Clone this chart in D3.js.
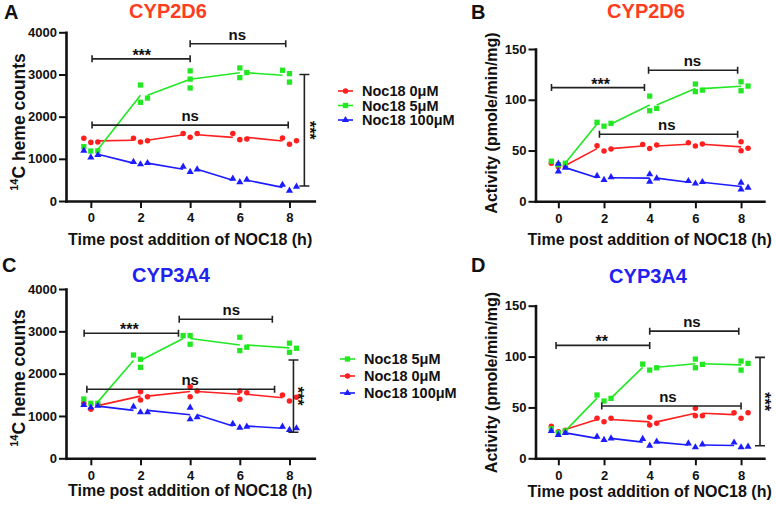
<!DOCTYPE html>
<html lang="en">
<head>
<meta charset="utf-8">
<title>Noc18: heme and activity of CYP2D6 / CYP3A4</title>
<script src="https://cdn.jsdelivr.net/npm/d3@7"></script>
<style>
  body { margin: 0; background: #fff; }
  svg text { font-family: "Liberation Sans", Arial, sans-serif; font-weight: bold; fill: #111; }
</style>
</head>
<body>
<script>

// sampling times (h)
var times = [0, 2, 4, 6, 8];
var seriesNames = ["Noc18 0μM", "Noc18 5μM", "Noc18 100μM"];
var hemeTicks = [0, 1000, 2000, 3000, 4000];
var activityTicks = [0, 50, 100, 150];

// A - 14C heme counts, CYP2D6 (3 replicates per time)
var hemeD6_noc0   = [[1490,1390,1400],[1490,1400,1430],[1600,1510,1600],[1600,1455,1470],[1495,1345,1430]];
var hemeD6_noc5   = [[1290,1185,1190],[2750,2340,2440],[3085,2890,2680],[3155,2925,3045],[3100,3020,2820]];
var hemeD6_noc100 = [[1195,1035,1090],[925,870,900],[815,690,750],[530,445,505],[385,245,340]];

// B - activity (pmole/min/mg), CYP2D6
var actD6_noc0   = [[37.5,34,34.5],[54.7,49.5,51.5],[56,52,55.4],[57.7,54.4,56.4],[58.7,49.8,52.2]];
var actD6_noc5   = [[39.5,36,37.5],[77.8,74,76.8],[103.6,89.2,91.5],[115.5,108,109.5],[117.7,108.9,113.5]];
var actD6_noc100 = [[37,29.5,33],[25,21,23.8],[26.6,19.3,22.6],[20,17.5,19],[18.3,11.8,13.4]];

// C - 14C heme counts, CYP3A4
var hemeA4_noc0   = [[1300,1158,1277],[1575,1378,1456],[1693,1456,1590],[1590,1395,1550],[1497,1355,1442]];
var hemeA4_noc5   = [[1400,1300,1300],[2440,2340,2150],[2900,2900,2695],[2860,2545,2625],[2720,2505,2600]];
var hemeA4_noc100 = [[1260,1200,1240],[1220,1087,1087],[1196,922,969],[811,724,747],[747,669,709]];

// D - activity (pmole/min/mg), CYP3A4
var actA4_noc0   = [[31.5,26,27.5],[39.3,36,39.3],[40.3,32.7,34.4],[49.1,41.9,41.9],[44.8,39.3,44.8]];
var actA4_noc5   = [[29,25,27],[62.2,56.3,58.9],[92.6,86.7,89],[97.5,89,92.3],[95.6,86.7,93.3]];
var actA4_noc100 = [[27,23,25],[21.2,18,19.6],[19,12.4,16.3],[14.7,10.8,13.7],[15.5,10.8,11.4]];

// significance brackets: [label, from (h), to (h), level, label at (h)]
var bracketsA = [["***", 0.05, 4, 3370, 2.05], ["ns", 4, 7.85, 3730, 5.9], ["ns", 0.05, 7.95, 1800, 4]];
var bracketsB = [["***", -0.3, 3.77, 112, 1.85], ["ns", 3.95, 7.85, 129, 5.87], ["ns", 1.8, 7.85, 66, 4.75]];
var bracketsC = [["***", -0.27, 3.53, 2955, 1.55], ["ns", 3.56, 7.31, 3286, 5.66], ["ns", -0.16, 7.4, 1631, 4]];
var bracketsD = [["**", -0.1, 4, 111, 1.9], ["ns", 4, 7.9, 125, 5.85], ["ns", 1.9, 8, 51.4, 4.8]];
// vertical brackets: [label, at (h), from, to]
var vBracketA = ["***", 8.6, 355, 3000];
var vBracketC = ["***", 8.16, 615, 2324];
var vBracketD = ["***", 8.83, 12.4, 99.2];

// ---- layout / style ----
var colors = ["#ff1f1f", "#22e822", "#1c1cff"];
var shapes = [d3.symbolCircle, d3.symbolSquare, d3.symbolTriangle];
var shapeSize = [24, 28, 22];

// horizontal placement of replicates inside a time group: "-" left, "0" centre, "+" right
var D = "-0+";
var slotsA = [[D,D,D,D,D], [D,"00+","000","00+","-00"], [D,D,D,D,D]];
var slotsB = [[D,D,D,D,"00+"], [D,D,"00+","00+","00+"], ["00+",D,"00+",D,"00+"]];
var slotsC = [[D,"00+","00+","00+",D], [D,"-00","-00","00+","00+"], [D,D,"00+",D,D]];
var slotsD = [[D,D,"00+","00+",D], [D,D,D,"00+","00+"], [D,D,D,D,D]];

var panels = [
  { letter: "A", lx: 4, ly: 19, title: "CYP2D6", tcol: "#ff3c1e", tx: 168, ty: 18,
    xr: [66, 314.3], yr: [201, 32.3], ymax: 4000, yticks: hemeTicks,
    ytitle: "heme", ytx: 22, yty: 122, xty: 245,
    series: [hemeD6_noc0, hemeD6_noc5, hemeD6_noc100], slots: slotsA,
    brackets: bracketsA, vb: vBracketA, vbOff: 0,
    legend: { x: 338, ys: [91, 105.5, 120], order: [0, 1, 2] } },
  { letter: "B", lx: 471, ly: 19, title: "CYP2D6", tcol: "#ff3c1e", tx: 646, ty: 18,
    xr: [535.5, 763.9], yr: [201.3, 49], ymax: 150, yticks: activityTicks,
    ytitle: "Activity (pmole/min/mg)", ytx: 497, yty: 123, xty: 245,
    series: [actD6_noc0, actD6_noc5, actD6_noc100], slots: slotsB,
    brackets: bracketsB },
  { letter: "C", lx: 2, ly: 272, title: "CYP3A4", tcol: "#2121f0", tx: 171, ty: 282,
    xr: [66, 314.3], yr: [458.3, 289], ymax: 4000, yticks: hemeTicks,
    ytitle: "heme", ytx: 22, yty: 378, xty: 496,
    series: [hemeA4_noc0, hemeA4_noc5, hemeA4_noc100], slots: slotsC,
    brackets: bracketsC, vb: vBracketC, vbOff: -1.5,
    legend: { x: 340, ys: [359, 376, 393], order: [1, 0, 2] } },
  { letter: "D", lx: 471, ly: 272, title: "CYP3A4", tcol: "#2121f0", tx: 648, ty: 283,
    xr: [535.5, 763.9], yr: [458.3, 305.7], ymax: 150, yticks: activityTicks,
    ytitle: "Activity (pmole/min/mg)", ytx: 497, yty: 382.5, xty: 496.5,
    series: [actA4_noc0, actA4_noc5, actA4_noc100], slots: slotsD,
    brackets: bracketsD, vb: vBracketD, vbOff: -1 }
];

var svg = d3.select("body").append("svg")
    .attr("width", 776)
    .attr("height", 509);

svg.append("rect").attr("width", 776).attr("height", 509).attr("fill", "white");

panels.forEach(drawPanel);

function drawPanel(p) {
  var x = d3.scaleLinear().domain([-1, 9]).range(p.xr);
  var y = d3.scaleLinear().domain([0, p.ymax]).range(p.yr);
  var g = svg.append("g");
  var jit = 7;

  // panel letter + title
  g.append("text").attr("x", p.lx).attr("y", p.ly)
    .style("font-size", "20px").text(p.letter);
  g.append("text").attr("x", p.tx).attr("y", p.ty)
    .attr("text-anchor", "middle").style("font-size", "20px")
    .style("fill", p.tcol).text(p.title);

  // axes
  var xAxis = g.append("g")
    .attr("transform", `translate(0,${p.yr[0]})`)
    .call(d3.axisBottom(x).tickValues(times).tickSize(7).tickSizeOuter(0).tickPadding(5));
  var yAxis = g.append("g")
    .attr("transform", `translate(${p.xr[0]},0)`)
    .call(d3.axisLeft(y).tickValues(p.yticks).tickFormat(d3.format("d"))
      .tickSize(7).tickSizeOuter(0).tickPadding(2));
  [xAxis, yAxis].forEach(function(a) {
    a.select(".domain").attr("stroke", "#111").attr("stroke-width", 2.6).attr("stroke-linecap", "square");
    a.selectAll(".tick line").attr("stroke", "#111").attr("stroke-width", 2);
    a.selectAll(".tick text").style("font-size", "13px").attr("fill", "#111");
  });

  // axis titles
  g.append("text").attr("x", (x(-1) + x(9)) / 2).attr("y", p.xty)
    .attr("text-anchor", "middle").style("font-size", "16px")
    .text("Time post addition of NOC18 (h)");
  var yt = g.append("text")
    .attr("transform", `translate(${p.ytx},${p.yty}) rotate(-90)`)
    .attr("text-anchor", "middle").style("font-size", p.ytitle == "heme" ? "17.5px" : "16px");
  if (p.ytitle == "heme") {
    yt.append("tspan").attr("dy", "-0.4em").style("font-size", "11px").text("14");
    yt.append("tspan").attr("dy", "0.4em").text("C heme counts");
  } else {
    yt.text(p.ytitle);
  }

  // series: connecting lines between group means, then replicate markers
  p.series.forEach(function(vals, si) {
    var groups = vals.map(function(reps, ti) {
      var code = p.slots[si][ti];
      var pts = reps.map(function(v, k) {
        var s = code[k] == "-" ? -1 : code[k] == "+" ? 1 : 0;
        return { px: x(times[ti]) + s * jit, py: y(v) };
      });
      return {
        pts: pts,
        lo: d3.min(pts, d => d.px),
        hi: d3.max(pts, d => d.px),
        my: y(d3.mean(reps))
      };
    });

    for (var i = 0; i < groups.length - 1; i++) {
      g.append("line")
        .attr("x1", groups[i].hi).attr("y1", groups[i].my)
        .attr("x2", groups[i + 1].lo).attr("y2", groups[i + 1].my)
        .attr("stroke", colors[si]).attr("stroke-width", 1.6);
    }
  });

  p.series.forEach(function(vals, si) {
    var sym = d3.symbol().type(shapes[si]).size(shapeSize[si]);
    vals.forEach(function(reps, ti) {
      var code = p.slots[si][ti];
      reps.forEach(function(v, k) {
        var s = code[k] == "-" ? -1 : code[k] == "+" ? 1 : 0;
        g.append("path").attr("d", sym)
          .attr("transform", `translate(${x(times[ti]) + s * jit},${y(v)})`)
          .attr("fill", colors[si]);
      });
    });
  });

  // significance brackets
  p.brackets.forEach(function(b) {
    var yy = y(b[3]), xa = x(b[1]), xb = x(b[2]);
    g.append("path")
      .attr("d", `M${xa},${yy - 3.5}V${yy + 3.5}M${xa},${yy}H${xb}M${xb},${yy - 3.5}V${yy + 3.5}`)
      .attr("fill", "none").attr("stroke", "#222").attr("stroke-width", 1.6);
    var star = b[0] != "ns";
    g.append("text").attr("x", x(b[4])).attr("y", star ? yy + 2 : yy - 4)
      .attr("text-anchor", "middle").style("font-size", star ? "16px" : "15px")
      .text(b[0]);
  });

  if (p.vb) {
    var vx = x(p.vb[1]), ya = y(p.vb[2]), yb = y(p.vb[3]);
    g.append("path")
      .attr("d", `M${vx - 5},${ya}H${vx + 5}M${vx},${ya}V${yb}M${vx - 5},${yb}H${vx + 5}`)
      .attr("fill", "none").attr("stroke", "#222").attr("stroke-width", 1.6);
    g.append("text")
      .attr("transform", `translate(${vx + p.vbOff},${(ya + yb) / 2}) rotate(90)`)
      .attr("text-anchor", "middle").style("font-size", "16px")
      .text(p.vb[0]);
  }

  // legend
  if (p.legend) {
    p.legend.order.forEach(function(si, r) {
      var ly = p.legend.ys[r];
      g.append("line").attr("x1", p.legend.x).attr("x2", p.legend.x + 15)
        .attr("y1", ly).attr("y2", ly)
        .attr("stroke", colors[si]).attr("stroke-width", 1.6);
      g.append("path").attr("d", d3.symbol().type(shapes[si]).size(shapeSize[si]))
        .attr("transform", `translate(${p.legend.x + 7.5},${ly})`)
        .attr("fill", colors[si]);
      g.append("text").attr("x", p.legend.x + 24).attr("y", ly + 5)
        .style("font-size", "14.5px").text(seriesNames[si]);
    });
  }
}

</script>
</body>
</html>
